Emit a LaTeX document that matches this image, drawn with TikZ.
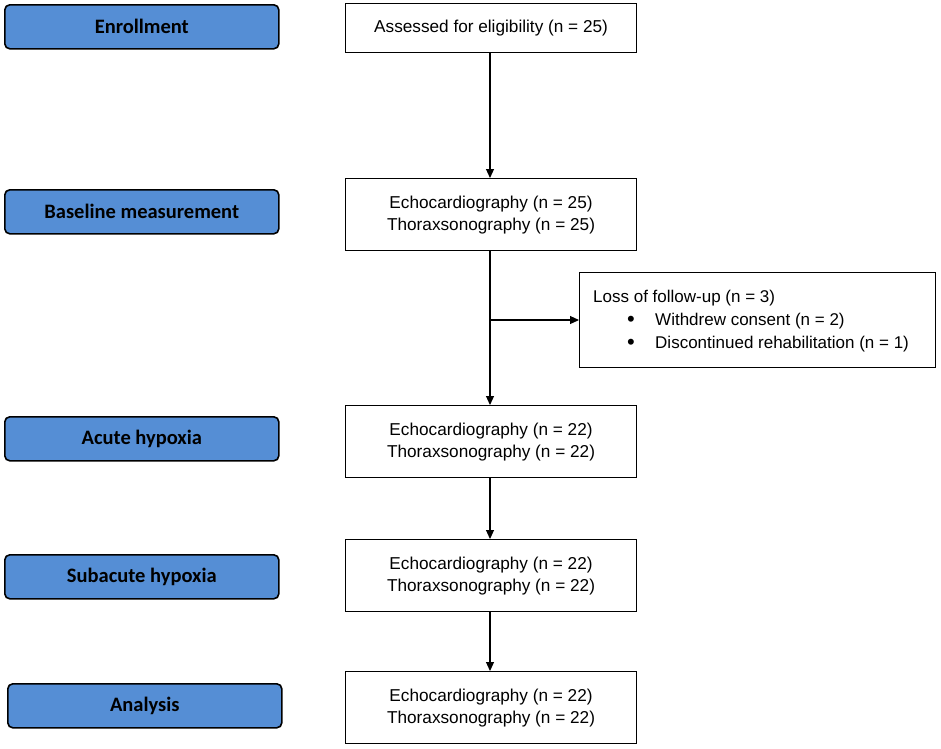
\documentclass[tikz,border=0pt]{standalone}
\usepackage{fontspec}
\setmainfont{Liberation Sans}
\newfontfamily\blueboxfont{Carlito}
\usetikzlibrary{arrows.meta}
\definecolor{stageblue}{RGB}{85,142,213}
\begin{document}
\begin{tikzpicture}[x=1pt,y=-1pt,
  stagebox/.style={draw=black,line width=1.6pt,fill=stageblue,rounded corners=5pt,
    minimum width=274pt,minimum height=44pt,font=\blueboxfont\bfseries\fontsize{20.5}{24}\selectfont,anchor=north west,inner sep=0pt},
  infobox/.style={draw=black,line width=1.1pt,fill=white,minimum width=291pt,anchor=north west,
    align=center,font=\fontsize{17.2}{22}\selectfont,inner sep=0pt},
  losstext/.style={font=\fontsize{17}{22}\selectfont,inner sep=0pt},
  flow/.style={line width=1.1pt,-{Triangle[length=9pt,width=8pt]}}]
\useasboundingbox (0,0) rectangle (941,748);
% stage boxes
\node[stagebox] (s1) at (4,4) {Enrollment};
\node[stagebox] (s2) at (4,189) {Baseline measurement};
\node[stagebox] (s3) at (4,416) {Acute hypoxia};
\node[stagebox] (s4) at (4,554) {Subacute hypoxia};
\node[stagebox] (s5) at (7,683) {Analysis};
% info boxes
\node[infobox,minimum height=49pt] (b1) at (345,3) {Assessed for eligibility (n = 25)};
\node[infobox,minimum height=72pt] (b2) at (345,178) {Echocardiography (n = 25)\\Thoraxsonography (n = 25)};
\node[infobox,minimum height=72pt] (b3) at (345,405) {Echocardiography (n = 22)\\Thoraxsonography (n = 22)};
\node[infobox,minimum height=72pt] (b4) at (345,539) {Echocardiography (n = 22)\\Thoraxsonography (n = 22)};
\node[infobox,minimum height=72pt] (b5) at (345,671) {Echocardiography (n = 22)\\Thoraxsonography (n = 22)};
% loss box
\node[draw=black,line width=1.1pt,minimum width=356pt,minimum height=95pt,anchor=north west,inner sep=0pt] (loss) at (579,272) {};
\node[losstext,anchor=west] (l1) at (593,298) {Loss of follow-up (n = 3)};
\node[losstext,anchor=center,font=\fontsize{22}{22}\selectfont] (bul1) at (631,321) {\textbullet};
\node[losstext,anchor=west] (l2) at (655,321) {Withdrew consent (n = 2)};
\node[losstext,anchor=center,font=\fontsize{22}{22}\selectfont] (bul2) at (631,344) {\textbullet};
\node[losstext,anchor=west] (l3) at (655,344) {Discontinued rehabilitation (n = 1)};
% connectors
\draw[flow] (b1.south -| 490,0) -- (b2.north -| 490,0);
\draw[flow] (b2.south -| 490,0) -- (b3.north -| 490,0);
\coordinate (br) at (490,320);
\draw[flow] (br) -- (loss.west |- br);
\draw[flow] (b3.south -| 490,0) -- (b4.north -| 490,0);
\draw[flow] (b4.south -| 490,0) -- (b5.north -| 490,0);
\end{tikzpicture}
\end{document}
